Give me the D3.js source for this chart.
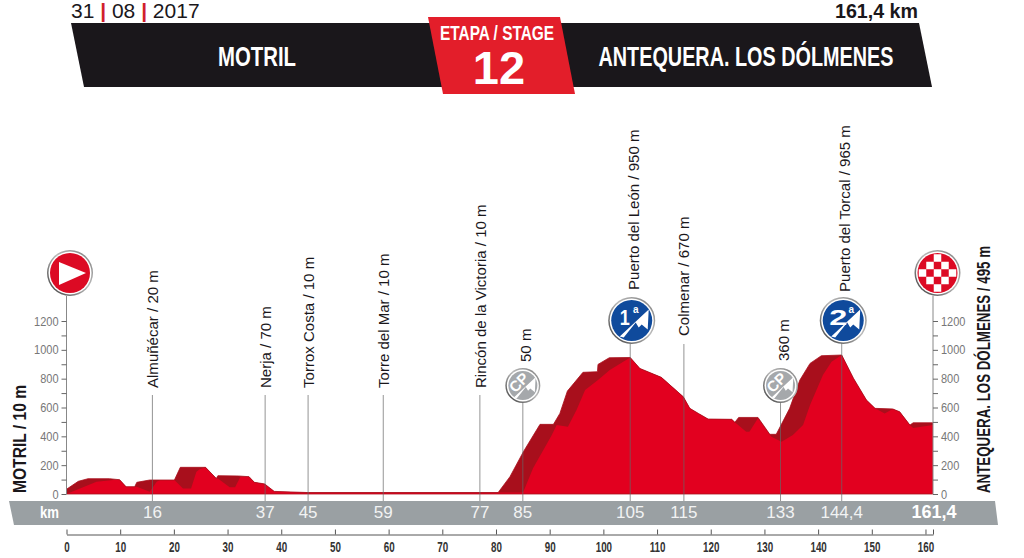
<!DOCTYPE html>
<html>
<head>
<meta charset="utf-8">
<script src="https://cdn.jsdelivr.net/npm/d3@7"></script>
<style>
  html, body { margin: 0; background: #fff; }
  svg { display: block; }
  text { font-family: "Liberation Sans", Arial, sans-serif; }
</style>
</head>
<body>
<script>
// crest of the profile (km, m)
const crestKm = [0, 2.2, 4, 8, 9.9, 11.1, 12.7, 13.1, 15.5, 20.1, 21.2, 25.9, 27.9, 28.2, 32, 34, 35, 36.9, 38.7, 45, 59, 77, 80.4, 82.6, 85.1, 88.2, 90.7, 91.9, 93.3, 96.2, 98.9, 99, 101.1, 105, 106.8, 110.8, 114.9, 116.1, 117.7, 119.5, 123.9, 124.5, 125.2, 128.8, 131, 132.2, 134.7, 136.6, 138.5, 140.6, 144.4, 146.6, 149, 150.6, 153.9, 155.2, 157.1, 157.7, 161.4];
const crestElev = [33, 88, 106, 106, 99, 50, 50, 81, 97, 97, 185, 185, 108, 127, 125, 120, 81, 70, 18, 10, 10, 10, 10, 120, 293, 483, 483, 559, 714, 844, 848, 899, 945, 947, 871, 809, 674, 594, 559, 520, 518, 497, 531, 531, 414, 414, 594, 790, 906, 959, 964, 802, 652, 594, 590, 570, 478, 494, 494];
// lit front face, lower than the crest on the climbs
const frontKm = [0, 2.5, 5.6, 8.7, 9.9, 11.1, 12.7, 13.1, 15.5, 16.8, 17.4, 20.1, 21.7, 23.2, 24.2, 24.8, 25.9, 27.9, 28.2, 30.4, 31.4, 32.4, 34, 35, 36.9, 38.7, 45, 59, 77, 84.8, 85.1, 86.9, 90.4, 91.3, 93.4, 95, 96.6, 99, 101.2, 105, 106.8, 110.8, 114.9, 116.1, 117.7, 119.5, 123.9, 124.5, 126.6, 127.2, 128.8, 131.3, 133.2, 135.3, 137.2, 138.5, 140.9, 142.5, 144.4, 146.6, 149, 150.6, 152.4, 153.9, 155.2, 157.1, 157.7, 161.4];
const frontElev = [0, 39, 85, 97, 99, 50, 50, 50, 16, 85, 97, 97, 39, 39, 155, 171, 185, 108, 108, 46, 46, 120, 120, 81, 70, 18, 10, 10, 10, 10, 16, 178, 409, 478, 467, 582, 721, 790, 860, 947, 871, 809, 674, 594, 559, 520, 518, 497, 432, 432, 525, 397, 363, 409, 478, 617, 825, 917, 964, 802, 652, 594, 559, 590, 570, 478, 457, 478];

const plainKm = [16, 37, 45, 59, 77];
const plainLabels = ["Almuñécar / 20 m", "Nerja / 70 m", "Torrox Costa / 10 m", "Torre del Mar / 10 m", "Rincón de la Victoria / 10 m"];
const colmenarKm = 115;
const colmenarLabel = "Colmenar / 670 m";
const sprintKm = [85, 133];
const sprintLabels = ["50 m", "360 m"];
const climbKm = [105, 144.4];
const climbLabels = ["Puerto del León / 950 m", "Puerto del Torcal / 965 m"];
const climbCats = ["1", "2"];
const bandKm = [16, 37, 45, 59, 77, 85, 105, 115, 133, 144.4];
const bandLabels = ["16", "37", "45", "59", "77", "85", "105", "115", "133", "144,4"];
const kmTicks = [0, 10, 20, 30, 40, 50, 60, 70, 80, 90, 100, 110, 120, 130, 140, 150, 160];
const elevMajor = [0, 200, 400, 600, 800, 1000, 1200];
const elevMinor = [100, 300, 500, 700, 900, 1100];
const totalKm = 161.4;

const svg = d3.select("body").append("svg").attr("width", 1024).attr("height", 558);

const x = d3.scaleLinear().domain([0, totalKm]).range([66.5, 933]);
const y = d3.scaleLinear().domain([0, 1200]).range([494, 321]);

// no condensed face is installed, so squeeze to the measured width
const squeeze = (sel, width) =>
  sel.attr("textLength", width).attr("lengthAdjust", "spacingAndGlyphs");
const squeezeBy = (sel, f) =>
  sel.each(function () {
    d3.select(this).call(squeeze, this.getComputedTextLength() * f);
  });

// header
const poly = (pts, fill) => svg.append("polygon").attr("points", pts.join(" ")).attr("fill", fill);
poly([[71, 23], [919, 23], [932, 87], [84, 87]], "#1a171b");
poly([[428, 17], [560, 17], [575, 94], [443, 94]], "#e31e2a");

const label = (tx, ty, str, size, opts = {}) =>
  svg.append("text").attr("x", tx).attr("y", ty).attr("font-size", size)
    .attr("text-anchor", opts.anchor || "start")
    .attr("fill", opts.fill || "#1a171b")
    .attr("font-weight", opts.weight || null)
    .text(str);

const date = svg.append("text").attr("x", 71).attr("y", 17.5).attr("font-size", 21)
  .attr("fill", "#1a171b").attr("font-family", "Roboto").attr("font-weight", 500);
date.append("tspan").text("31 ");
date.append("tspan").attr("fill", "#d0202c").attr("font-weight", 700).text("|");
date.append("tspan").text(" 08 ");
date.append("tspan").attr("fill", "#d0202c").attr("font-weight", 700).text("|");
date.append("tspan").text(" 2017");
label(918, 18, "161,4 km", 21, { anchor: "end", weight: 700 }).call(squeeze, 83);
label(257, 66, "MOTRIL", 28.5, { anchor: "middle", fill: "#fff", weight: 700 }).call(squeeze, 78);
label(746, 66, "ANTEQUERA. LOS DÓLMENES", 28.5, { anchor: "middle", fill: "#fff", weight: 700 }).call(squeeze, 295);
label(497, 40, "ETAPA / STAGE", 20, { anchor: "middle", fill: "#fff", weight: 700 }).call(squeeze, 114);
label(499, 84, "12", 47, { anchor: "middle", fill: "#fff", weight: 700 });

// gray km band
poly([[9, 501], [995, 501], [998, 525], [14, 525]], "#9aa0a3");
label(40, 518, "km", 17, { fill: "#fff", weight: 700 }).call(squeeze, 19);

// profile
const area = d3.area().x((d) => x(d[0])).y0(y(0)).y1((d) => y(d[1]));
svg.append("path").datum(d3.zip(crestKm, crestElev)).attr("d", area).attr("fill", "#a80f1c");
svg.append("path").datum(d3.zip(frontKm, frontElev)).attr("d", area).attr("fill", "#e2001f");
svg.append("path").datum(d3.zip(crestKm, crestElev))
  .attr("d", d3.line().x((d) => x(d[0])).y((d) => y(d[1])))
  .attr("fill", "none").attr("stroke", "#a80f1c").attr("stroke-width", 0.8);
svg.append("line").attr("x1", x(0)).attr("x2", x(totalKm)).attr("y1", y(0)).attr("y2", y(0))
  .attr("stroke", "#a80f1c").attr("stroke-width", 0.8);

// leader lines
const leader = (km, top) =>
  svg.append("line").attr("x1", x(km)).attr("x2", x(km)).attr("y1", top).attr("y2", 501)
    .attr("stroke", "#666").attr("stroke-opacity", 0.7).attr("stroke-width", 1);
plainKm.forEach((km) => leader(km, 395));
leader(colmenarKm, 344);
sprintKm.forEach((km) => leader(km, 400));
climbKm.forEach((km) => leader(km, 340));

const vlabel = (km, dx, bottom, str) =>
  svg.append("text").attr("transform", `translate(${x(km) + dx},${bottom}) rotate(-90)`)
    .attr("font-size", 15.5).attr("fill", "#1a171b").text(str).call(squeezeBy, 0.97);
plainKm.forEach((km, i) => vlabel(km, 6, 388, plainLabels[i]));
vlabel(colmenarKm, 5, 336, colmenarLabel);
vlabel(sprintKm[0], 8, 362, sprintLabels[0]);
vlabel(sprintKm[1], 8, 361, sprintLabels[1]);
vlabel(climbKm[0], 9, 290, climbLabels[0]);
vlabel(climbKm[1], 8, 292, climbLabels[1]);

// elevation axes
const axisStyle = (g) => {
  g.select(".domain").remove();
  g.selectAll("line").attr("stroke", "#666");
  g.selectAll("text").attr("fill", "#777").attr("font-size", 12.5)
    .attr("font-family", "Liberation Sans").call(squeezeBy, 0.88);
};
[[x(0), d3.axisLeft], [x(totalKm), d3.axisRight]].forEach(([px, axis]) => {
  svg.append("line").attr("x1", px).attr("x2", px).attr("y1", 296).attr("y2", y(0))
    .attr("stroke", "#888").attr("stroke-width", 1);
  svg.append("g").attr("transform", `translate(${px},0)`)
    .call(axis(y).tickValues(elevMajor).tickSize(5).tickPadding(3).tickFormat(d3.format("d")))
    .call(axisStyle);
  svg.append("g").attr("transform", `translate(${px},0)`)
    .call(axis(y).tickValues(elevMinor).tickSize(5).tickFormat(""))
    .call(axisStyle);
});

// km axis under the band
const kmAxis = svg.append("g").attr("transform", "translate(0,534.5)")
  .call(d3.axisBottom(x).tickValues(kmTicks.concat(totalKm)).tickSize(-5).tickSizeOuter(0)
    .tickFormat((d) => (d === totalKm ? "" : d)));
kmAxis.select(".domain").attr("stroke", "#555");
kmAxis.selectAll("line").attr("stroke", "#555");
kmAxis.selectAll("text").attr("y", 7).attr("dy", "10").attr("font-weight", 700)
  .attr("font-size", 14).attr("fill", "#333").call(squeezeBy, 0.7);

// km labels inside the band
bandKm.forEach((km, i) =>
  label(x(km), 518, bandLabels[i], 17, { anchor: "middle", fill: "#f2f3f3" }));
label(x(totalKm) + 1, 518, "161,4", 18, { anchor: "middle", fill: "#fff", weight: 700 });

// side titles
svg.append("text").attr("transform", "translate(26,493) rotate(-90)").attr("font-weight", 700)
  .attr("font-size", 18).attr("fill", "#1a171b").text("MOTRIL / 10 m").call(squeeze, 108);
svg.append("text").attr("transform", "translate(990,493) rotate(-90)").attr("font-weight", 700)
  .attr("font-size", 18).attr("fill", "#1a171b").text("ANTEQUERA. LOS DÓLMENES / 495 m").call(squeeze, 247);

// badges
const rim = svg.append("defs").append("linearGradient").attr("id", "rim")
  .attr("x1", 0).attr("y1", 1).attr("x2", 1).attr("y2", 0);
rim.append("stop").attr("offset", "0%").attr("stop-color", "#333");
rim.append("stop").attr("offset", "55%").attr("stop-color", "#bbb");
rim.append("stop").attr("offset", "100%").attr("stop-color", "#777");

const badge = (cx, cy, r, fill) => {
  const g = svg.append("g").attr("transform", `translate(${cx},${cy})`);
  g.append("circle").attr("r", r).attr("fill", "url(#rim)");
  g.append("circle").attr("r", r - 1.5).attr("fill", "#fff");
  g.append("circle").attr("r", r - 3).attr("fill", fill);
  return g;
};
const peak = (g, s) =>
  g.append("path").attr("fill", "#fff").attr("transform", `scale(${s})`)
    .attr("d", "M-12,16 L17,-11 L16,9 L10,4 L7,7 L4,2 L-8,17 Z");

const start = badge(x(0) + 3.5, 273, 23, "#dc0a24");
start.append("path").attr("d", "M-11,-11 L16,0 L-11,12 Z").attr("fill", "#fff");

const finish = badge(x(totalKm) + 4.5, 273, 23, "#dc0a24");
d3.range(-2, 3).forEach((i) => d3.range(-2, 3).forEach((j) => {
  if (Math.abs(i) + Math.abs(j) < 4 && (i + j + 4) % 2 === 0) {
    finish.append("rect").attr("x", i * 7.5 - 3.75).attr("y", j * 7.5 - 3.75)
      .attr("width", 7.5).attr("height", 7.5).attr("fill", "#fff");
  }
}));

climbKm.forEach((km, i) => {
  const g = badge(x(km) + 1.5, 320.5, 23.5, "#0f4a9c");
  peak(g, 1);
  g.append("text").attr("x", i ? -5 : -7).attr("y", 4).attr("text-anchor", "middle")
    .attr("font-size", 22).attr("font-weight", 700).attr("fill", "#fff")
    .text(climbCats[i]).call(squeeze, i ? 18 : 10);
  g.append("text").attr("x", i ? 8 : 4).attr("y", -8).attr("text-anchor", "middle")
    .attr("font-size", 10).attr("font-weight", 700).attr("fill", "#fff").text("a");
});

sprintKm.forEach((km) => {
  const g = badge(x(km), 385.5, 17.5, "#a5a8ab");
  peak(g, 0.75);
  g.append("text").attr("transform", "translate(-4,-3) rotate(-45)").attr("text-anchor", "middle")
    .attr("dy", "0.35em").attr("font-size", 15).attr("font-weight", 700).attr("fill", "#fff")
    .text("CP");
});
</script>
</body>
</html>
